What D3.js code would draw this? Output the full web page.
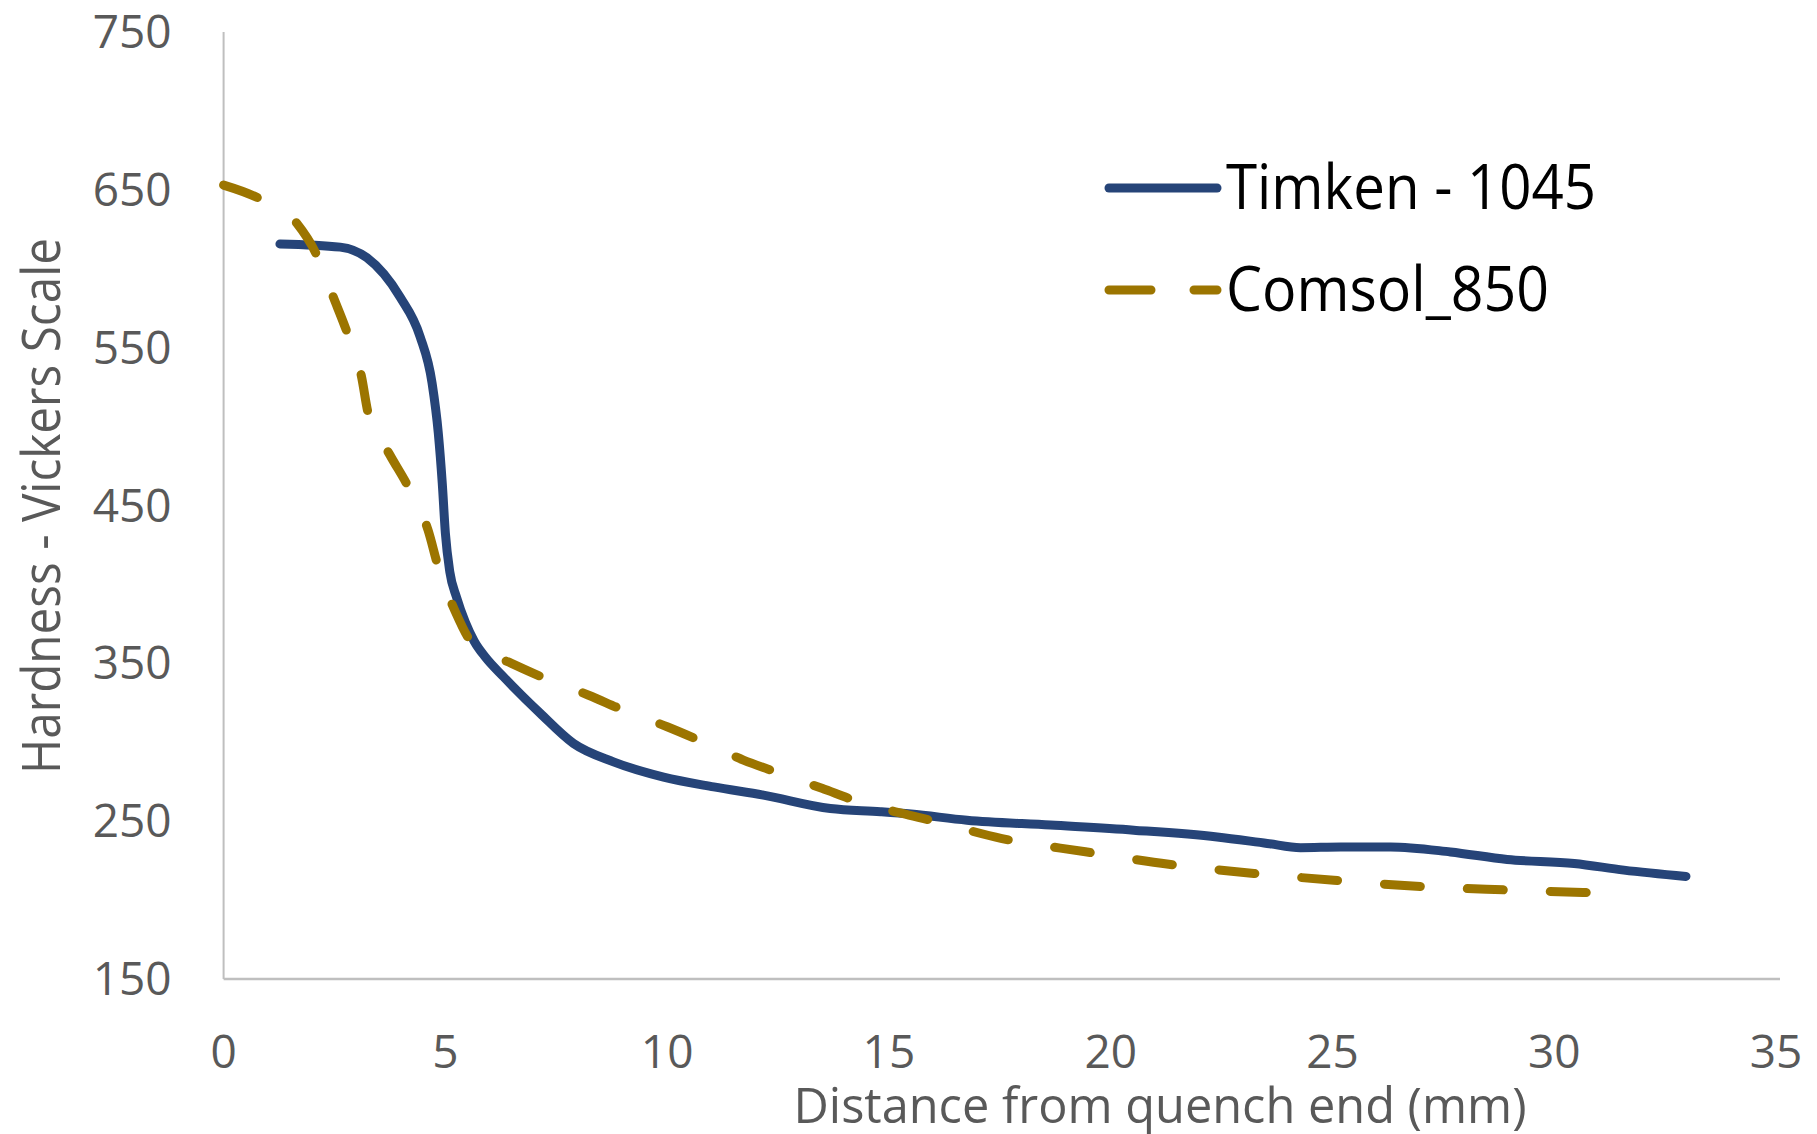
<!DOCTYPE html>
<html lang="en">
<head>
  <meta charset="UTF-8">
  <title>Hardness vs distance from quench end</title>
  <script src="https://d3js.org/d3.v7.min.js"></script>
  <style>
    body {
      margin: 0;
      background: #fff;
    }
    svg {
      display: block;
      font-family: "Open Sans", "Noto Sans", sans-serif;
    }
    .tick-label {
      fill: #595959;
      font-size: 46px;
    }
    .axis-title {
      fill: #595959;
    }
    .legend text {
      fill: #000;
      font-size: 62px;
    }
  </style>
</head>
<body>
  <svg width="1817" height="1134"></svg>

  <script>
    // Timken - 1045 (measured), distance in mm / hardness HV
    const timkenX = [1.27, 2.63, 3.23, 3.98, 4.43, 4.70, 4.84, 4.93, 5.0, 5.1, 5.25, 5.45, 5.65, 5.9, 6.31,
      7.14, 7.89, 8.79, 9.92, 11.05, 12.17, 13.68, 14.81, 15.5, 16.76, 18.64, 20.52, 22.4,
      23.53, 24.28, 25.19, 26.31, 27.66, 28.94, 30.45, 31.57, 32.97];
    const timkenY = [615.7, 613.7, 607, 582, 557, 527.6, 496, 464, 432.5, 408, 392, 376, 364, 354, 341.5,
      318.3, 299.2, 287.6, 277.9, 271.7, 266.5, 258, 256, 254.5, 250.6, 247.5, 244.3, 240,
      235.9, 233.2, 233.7, 233.7, 230.5, 225.7, 223.2, 219, 215];

    // Comsol_850 (simulated)
    const comsolX = [0, 0.78, 1.65, 2.1, 2.47, 2.78, 3.11, 3.26, 3.75, 4.16, 4.61, 4.84, 5.22, 5.63,
      6.49, 7.25, 8.23, 9.02, 10.0, 10.79, 11.72, 12.51, 13.49, 14.32, 15.3, 15.94, 17.55,
      19.43, 21.31, 23.23, 25.03, 27.03, 28.94, 30.9];
    const comsolY = [653, 644.8, 628.8, 608.7, 582.3, 560, 531.6, 508.4, 482, 462, 434.4, 411, 383, 362,
      350, 340.5, 329.8, 320.3, 309.8, 300.4, 288.7, 280.6, 270.8, 262.3, 254.9, 250.6, 239,
      230.6, 222.7, 216.9, 212.6, 208.5, 206.4, 204.6];

    const xTicks = [0, 5, 10, 15, 20, 25, 30, 35];
    const yTicks = [150, 250, 350, 450, 550, 650, 750];

    const seriesNames = ["Timken - 1045", "Comsol_850"];
    const seriesColors = ["#264478", "#9C7500"];

    const svg = d3.select("svg");

    const x = d3.scaleLinear().domain([0, 35]).range([223.6, 1776]);
    const y = d3.scaleLinear().domain([150, 750]).range([979, 32]);

    // Axis lines
    svg.append("line")
      .attr("x1", x(0)).attr("x2", x(0))
      .attr("y1", y(750)).attr("y2", y(150))
      .attr("stroke", "#bfbfbf").attr("stroke-width", 2);
    svg.append("line")
      .attr("x1", x(0)).attr("x2", x(35) + 4)
      .attr("y1", y(150)).attr("y2", y(150))
      .attr("stroke", "#bfbfbf").attr("stroke-width", 2.5);

    // Tick labels
    svg.append("g")
      .selectAll("text")
      .data(yTicks)
      .join("text")
      .attr("class", "tick-label")
      .attr("x", x(0) - 52)
      .attr("y", d => y(d) + 16)
      .attr("text-anchor", "end")
      .text(d => d);

    svg.append("g")
      .selectAll("text")
      .data(xTicks)
      .join("text")
      .attr("class", "tick-label")
      .attr("x", d => x(d))
      .attr("y", 1068)
      .attr("text-anchor", "middle")
      .text(d => d);

    // Axis titles
    svg.append("text")
      .attr("class", "axis-title")
      .attr("x", 1160)
      .attr("y", 1123)
      .attr("text-anchor", "middle")
      .attr("font-size", 49)
      .attr("textLength", 733)
      .attr("lengthAdjust", "spacingAndGlyphs")
      .text("Distance from quench end (mm)");

    svg.append("text")
      .attr("class", "axis-title")
      .attr("transform", "translate(60,506) rotate(-90)")
      .attr("text-anchor", "middle")
      .attr("font-size", 53)
      .attr("textLength", 536)
      .attr("lengthAdjust", "spacingAndGlyphs")
      .text("Hardness - Vickers Scale");

    // Lines
    const line = d3.line()
      .x(d => x(d[0]))
      .y(d => y(d[1]))
      .curve(d3.curveMonotoneX);

    const timken = timkenX.map((d, i) => [d, timkenY[i]]);
    const comsol = comsolX.map((d, i) => [d, comsolY[i]]);

    svg.append("path")
      .datum(timken)
      .attr("d", line)
      .attr("fill", "none")
      .attr("stroke", seriesColors[0])
      .attr("stroke-width", 9)
      .attr("stroke-linecap", "round")
      .attr("stroke-linejoin", "round");

    svg.append("path")
      .datum(comsol)
      .attr("d", line)
      .attr("fill", "none")
      .attr("stroke", seriesColors[1])
      .attr("stroke-width", 9)
      .attr("stroke-linecap", "round")
      .attr("stroke-dasharray", "36,47");

    // Legend
    const legend = svg.append("g").attr("class", "legend");
    const legendRows = [
      { name: seriesNames[0], color: seriesColors[0], dash: null, y: 188, len: 370 },
      { name: seriesNames[1], color: seriesColors[1], dash: "42,43", y: 290, len: 323 }
    ];
    const row = legend.selectAll("g")
      .data(legendRows)
      .join("g");
    row.append("line")
      .attr("x1", 1109).attr("x2", 1217)
      .attr("y1", d => d.y).attr("y2", d => d.y)
      .attr("stroke", d => d.color)
      .attr("stroke-width", 9)
      .attr("stroke-linecap", "round")
      .attr("stroke-dasharray", d => d.dash);
    row.append("text")
      .attr("x", 1226)
      .attr("y", d => d.y + 21)
      .attr("textLength", d => d.len)
      .attr("lengthAdjust", "spacingAndGlyphs")
      .text(d => d.name);
  </script>
</body>
</html>
